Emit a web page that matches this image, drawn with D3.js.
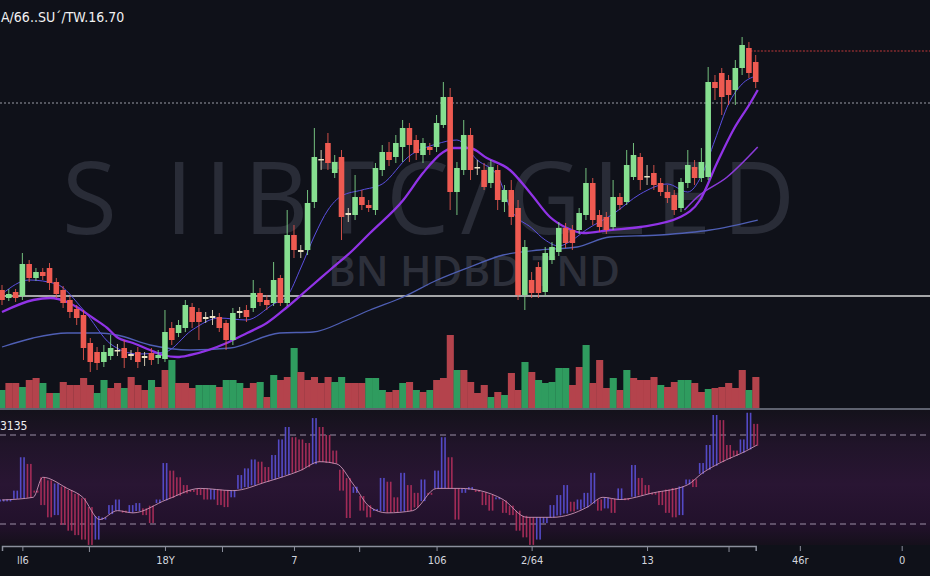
<!DOCTYPE html>
<html><head><meta charset="utf-8">
<script src="https://cdn.jsdelivr.net/npm/d3@7"></script>
<style>html,body{margin:0;padding:0;background:#0f1119;overflow:hidden}</style>
</head><body><svg id="c" width="930" height="576"></svg>
<script>
// ---------- DATA ----------
const titleText = "A/66..SU\u02CA/TW.16.70";
const oscLabel = "3135";
const watermark1 = "S IIBTC/GLED";
const watermark2 = "BN HDBD TND";
const opens = [165,161,164,162,178,171,174,176,169,165,160,155.5,152.5,138.5,134,129,132,135,136,132,134,131,133.5,131,130.5,146,143.5,146,156.5,154,150.5,152,151.5,148.5,140,153.5,155,156,163.5,160,158.5,171,158.5,192.5,184,185,209,230,238.5,223.5,231.5,202.5,202.5,211.5,207.5,205,225,234,231.5,236.5,246,240,232.5,236.5,236.5,247.5,261.5,214,225,242.5,226.5,225,218.5,225,209,215,206,162.5,170,176.5,164,180,184,196,195,195,202.5,218.5,202.5,201.5,196.5,211.5,209,221.5,231.5,221.5,223.5,218.5,214,212.5,206,218.5,226.5,221,221.5,269,273.5,270,265,276,286,279];
const closes = [160,163,161,178,171,174,172,168.5,163,158.5,154,151,136,129,128.5,134,136,134.5,131,133,129,132,130,132.5,144,140,147.5,157.5,149,149,151.5,151,146,140,153.5,154.5,151.5,163.5,159,157.5,170,158.5,192.5,185,185,208.5,231.5,230.5,228.5,229,201.5,203.5,211.5,207.5,206,226,234,230,238.5,246,237.5,233.5,238.5,235,248.5,261.5,214,226,242.5,225,226,216.5,226.5,210,215,201.5,162.5,186.5,163.5,163.5,183.5,186.5,196,188.5,188.5,203.5,218.5,200,196.5,195,211.5,207.5,227.5,232.5,220,222,217.5,214,211,205,219,227.5,221,229,269,266,261.5,262.5,276,287.5,273.5,269];
const highs = [167.5,165.5,165.5,183.5,180,176,176,178.5,171,167,162,157.5,155,141,136.5,137.5,142.5,138,140,135,136.5,134,136,135,155,149,150,160,158.5,156,154,155,153.5,150,156,156.5,157.5,170,166,162.5,179,172.5,205,197.5,187.5,215,246,235,243.5,232.5,235,206,222.5,215,210,228.5,237.5,239,242.5,250,248.5,242.5,241,238.5,252.5,269,266,229,250,246,230,228.5,230,227.5,217.5,220,210,190,174,179,186.5,189,199,198.5,197.5,206,226,221,205,204,220,213.5,235,238.5,233.5,227.5,227.5,221,217.5,215,221,235,230,236,276.5,272.5,276,272.5,280,291.5,289,282.5];
const lows = [157.5,159.5,159,160,169,169.5,170,165,161,156,151,147.5,130,124,125,126.5,130,132,126,130,126,127,127.5,128,129,137.5,141.5,144,146,140,148.5,147.5,144,135,137.5,151,149,154,157,155,157,157,157,181,181,182.5,206,225,225,221,190,199,200,205,204,202.5,222,227,228.5,229,229,230,228.5,232.5,234,246,205,202.5,222.5,220,222.5,215,216,205,204,197.5,160,155,161,161,162,178,182,186,185,193,200,197.5,194,193,195,205,207.5,220,215,217.5,215,212,208.5,202.5,204,216,217.5,219,220,260,252.5,257.5,257.5,272.5,271,266];
const volumes = [180,250,250,210,280,300,250,150,150,260,230,230,300,230,150,280,200,250,200,310,230,180,280,210,380,480,250,250,200,230,230,230,210,280,280,250,200,250,260,110,330,280,310,600,360,280,310,250,310,260,310,250,250,250,300,300,180,160,180,250,260,180,160,180,280,300,730,380,380,260,150,230,110,160,130,350,180,460,360,280,250,260,400,400,230,410,630,250,480,200,300,180,380,300,280,280,310,230,210,260,280,280,250,160,190,200,210,250,200,380,180,310];
const volUp = [1,0,0,1,0,0,1,0,1,0,0,0,0,0,1,1,0,0,1,0,0,0,1,0,0,1,0,0,0,1,1,1,0,1,1,1,0,0,1,0,1,0,0,1,0,0,0,0,0,1,1,0,0,0,1,1,1,0,0,1,0,1,0,1,0,0,0,1,0,0,0,0,1,0,1,0,0,1,0,1,1,1,1,1,0,0,1,0,0,0,1,0,1,0,0,0,0,1,0,0,1,1,0,0,1,0,0,0,0,0,1,0];
const osc = [41,41,45,60,57,45,38.5,33,34,29.6,27,25,23,20.6,23,32,38.5,41,36,38.5,39.4,34,30.4,41,57.4,54,51,47.5,45.3,43,41,41,38.5,37.6,42,52,55,59,58,55.6,61,68,73.6,69,68,66.4,77.6,73.6,70,63,45,32.7,44,36,33,36,50.7,49,42,53,47.5,44,50,44,54,69,60,32,44,46.6,45.3,38.5,36,42,35,34,27,24,20.6,23,30.4,38.5,43,47.5,40,41,44,53,36,37,35,46,41,56.5,50.7,47.5,44,38.5,35,33,34,50,46.6,57.4,65.5,79,76.7,65.5,63,68,80,75];
const sigIdx = [0,4.6,6,9.6,11.9,14.4,17,19.3,24.3,29.2,34,39,43.9,46.8,49.3,51.7,54.2,56.7,60.5,64,67.5,70.4,73.8,77.3,81.1,86.2,88.5,91,95.9,100.9,103.2,105.7,109.7,111.2];
const sigVal = [40.8,42,51,46,42,32,36,35,41,46,45,49,54,58,57,48,37.6,35,36,46,46,45,41,33,33,37.6,42,41,44,47.5,53,57.4,63,65.5];
const maMainIdx = [0,4.6,7.1,9.6,11,13.4,15.5,16.9,19.3,21.8,23.7,25.8,27.7,33.1,36.1,39,42,44.9,48.3,51.7,54.2,59.1,62,65,66.4,68.9,71.4,74.8,77.8,80.7,83.2,85.6,89.5,94,99.9,102.8,105.3,107.7,110.2,111.3];
const maMainVal = [154,160,161,159,156.5,151,146,141.5,138.5,135,132.5,131.5,132.5,138.5,143.5,148.5,156.5,165,175,185,193.5,210,223.5,234,236,236,231,225,213.5,201.5,196,193.5,195,196.5,201.5,210,228.5,245,258.5,265];
const maMidIdx = [100.5,102.4,106.8,111.3];
const maMidVal = [205,211.5,221.5,236.5];
const maFastIdx = [0,4,8,12,16,20,24,28,32,36,40,42,44,46,48,50,53,56,60,64,67,70,73,75,78,80,82,84,86,90,94,98,101,103,105,107,109,111];
const maFastVal = [163,170,168,155,138,133,134,145,151,150,158,162,176,192,205,212,215,218,232,238,240,230,222,205,196,190,187,190,195,203,213,218,214,222,240,258,268,272];
const maSlowIdx = [0,4.6,9.6,14.4,16.9,21.8,27.7,33.6,40.9,45.8,50.8,54.2,59.1,64.1,68.9,73.8,79.2,84.7,89.5,96.9,104.3,111.3];
const maSlowVal = [136.5,141,143.5,143.5,142.5,137.5,135,136,143.5,144,150,155,161.5,170,176.5,182.5,185,186.5,191.5,192.5,195,200];
const resistance = 258.5, support = 162, lastHigh = 284.5;
const tickIdx = [3,24,43,64,78,95,117.5,132.5];
const tickLabels = ["lI6","18Y","7","106","2/64","13","46r","0"];
const minorIdx = [12.8,32.4,52.6,107];

// ---------- DRAW ----------
const W=930,H=576;
const svg=d3.select('#c');
const defs=svg.append('defs');
const g1=defs.append('linearGradient').attr('id','oscbg').attr('x1',0).attr('x2',0).attr('y1',0).attr('y2',1);
[[0,'#14121b'],[0.25,'#201429'],[0.55,'#291533'],[0.85,'#22112b'],[1,'#15101b']].forEach(s=>g1.append('stop').attr('offset',s[0]).attr('stop-color',s[1]));

svg.append('rect').attr('width',W).attr('height',H).attr('fill','#0f1119');
svg.append('rect').attr('x',0).attr('y',410).attr('width',W).attr('height',135).attr('fill','url(#oscbg)');

const x=d3.scaleLinear().domain([0,111]).range([2,755.7]);
const y=d3.scaleLinear().domain([100,300]).range([420,20]);
const yv=d3.scaleLinear().domain([0,800]).range([408,328]);
const yo=d3.scaleLinear().domain([30,70]).range([524,435]);
const step = x(1)-x(0);

// watermarks
svg.append('text').attr('x',62).attr('y',234).attr('textLength',733).attr('lengthAdjust','spacing')
  .attr('font-family','"Open Sans", Lato, sans-serif').attr('font-weight',400).attr('font-size',100)
  .attr('fill','#292c37').text(watermark1);
svg.append('text').attr('x',328).attr('y',286).attr('textLength',292).attr('lengthAdjust','spacing')
  .attr('font-family','"Open Sans", sans-serif').attr('font-weight',600).attr('font-size',42)
  .attr('fill','#2d303b').text(watermark2);

// title
svg.append('text').attr('x',1).attr('y',22).attr('font-family','"DejaVu Sans Condensed","Liberation Sans Narrow",sans-serif')
  .attr('font-size',14).attr('fill','#f2f2f2').text(titleText);

// horizontal levels
svg.append('line').attr('x1',0).attr('x2',W).attr('y1',y(resistance)).attr('y2',y(resistance))
  .attr('stroke','#9a9ca6').attr('stroke-width',1).attr('stroke-dasharray','2,2');
svg.append('line').attr('x1',x(110)-2).attr('x2',W).attr('y1',y(lastHigh)).attr('y2',y(lastHigh))
  .attr('stroke','#c0393a').attr('stroke-width',1).attr('stroke-dasharray','2,1.5');
svg.append('line').attr('x1',0).attr('x2',W).attr('y1',y(support)).attr('y2',y(support))
  .attr('stroke','#d8d8d8').attr('stroke-width',1.6);

// volume
svg.append('g').selectAll('rect').data(volumes).join('rect')
  .attr('x',(d,i)=>x(i)-step/2).attr('width',step+0.3)
  .attr('y',d=>yv(d)).attr('height',d=>yv(0)-yv(d))
  .attr('fill',(d,i)=>volUp[i]?'#2f9c5f':'#b4434c');
svg.append('line').attr('x1',0).attr('x2',W).attr('y1',409).attr('y2',409).attr('stroke','#7a7e8c').attr('stroke-width',1.5);

// moving averages
const line=d3.line().x(d=>x(d[0])).y(d=>y(d[1])).curve(d3.curveMonotoneX);
const zip=(a,b)=>a.map((v,i)=>[v,b[i]]);
svg.append('path').attr('d',line(zip(maSlowIdx,maSlowVal))).attr('fill','none').attr('stroke','#4f5fb4').attr('stroke-width',1.3);
svg.append('path').attr('d',line(zip(maFastIdx,maFastVal))).attr('fill','none').attr('stroke','#5b4fe0').attr('stroke-width',1);
svg.append('path').attr('d',line(zip(maMidIdx,maMidVal))).attr('fill','none').attr('stroke','#8a3ad8').attr('stroke-width',1.6);
svg.append('path').attr('d',line(zip(maMainIdx,maMainVal))).attr('fill','none').attr('stroke','#9133e6').attr('stroke-width',2.3);

// candles
const col=(i)=>Math.abs(closes[i]-opens[i])<1.2?'#ece3c5':(closes[i]>opens[i]?'#86df90':'#ee5a51');
const cg=svg.append('g');
opens.forEach((o,i)=>{
  const c=closes[i];
  cg.append('line').attr('x1',x(i)).attr('x2',x(i)).attr('y1',y(highs[i])).attr('y2',y(lows[i]))
    .attr('stroke',col(i)).attr('stroke-width',1).attr('opacity',0.85);
  const top=y(Math.max(o,c)), bot=y(Math.min(o,c));
  cg.append('rect').attr('x',x(i)-2.8).attr('width',5.6).attr('y',top).attr('height',Math.max(1.5,bot-top)).attr('fill',col(i));
});

// oscillator panel
svg.append('text').attr('x',0).attr('y',430).attr('font-family','"DejaVu Sans Condensed",sans-serif').attr('font-size',12).attr('fill','#f0f0f0').text(oscLabel);
[70,30].forEach(v=>svg.append('line').attr('x1',0).attr('x2',W).attr('y1',yo(v)).attr('y2',yo(v))
  .attr('stroke','#9b8fa6').attr('stroke-width',1).attr('stroke-dasharray','6,4'));
const sigAt=i=>{
  for(let k=0;k<sigIdx.length-1;k++){ if(i<=sigIdx[k+1]){const t=(i-sigIdx[k])/(sigIdx[k+1]-sigIdx[k]);return sigVal[k]+t*(sigVal[k+1]-sigVal[k]);} }
  return sigVal[sigVal.length-1];
};
const og=svg.append('g');
osc.forEach((v,i)=>{
  const up = i===0 ? true : v>=osc[i-1];
  const s = sigAt(i);
  const y1=yo(Math.max(v,s)), y2=yo(Math.min(v,s));
  [-1.7,1.7].forEach(dx=>og.append('rect').attr('x',x(i)+dx-0.8).attr('width',1.6)
     .attr('y',y1).attr('height',Math.max(2,y2-y1)).attr('fill',up?'#5a50d6':'#b02f5c').attr('opacity',0.9));
});
svg.append('path').attr('d',d3.line().x(d=>x(d[0])).y(d=>yo(d[1])).curve(d3.curveMonotoneX)(zip(sigIdx,sigVal)))
  .attr('fill','none').attr('stroke','#d39bbd').attr('stroke-width',1).attr('opacity',0.85);

// x axis
const ax=svg.append('g').attr('transform','translate(0,546)')
  .call(d3.axisBottom(x).tickValues(tickIdx).tickFormat((d,i)=>tickLabels[i]).tickSize(5).tickPadding(5));
ax.select('.domain').attr('stroke','#8b8f9c').attr('stroke-width',1.5);
ax.selectAll('.tick line').attr('stroke','#8b8f9c');
ax.selectAll('.tick text').attr('fill','#d3d6de').attr('font-size',11).attr('font-family','"Liberation Sans Narrow","DejaVu Sans Condensed",sans-serif');
const ax2=svg.append('g').attr('transform','translate(0,546)')
  .call(d3.axisBottom(x).tickValues(minorIdx).tickFormat('').tickSize(6));
ax2.select('.domain').remove();
ax2.selectAll('.tick line').attr('stroke','#8b8f9c');
</script></body></html>
